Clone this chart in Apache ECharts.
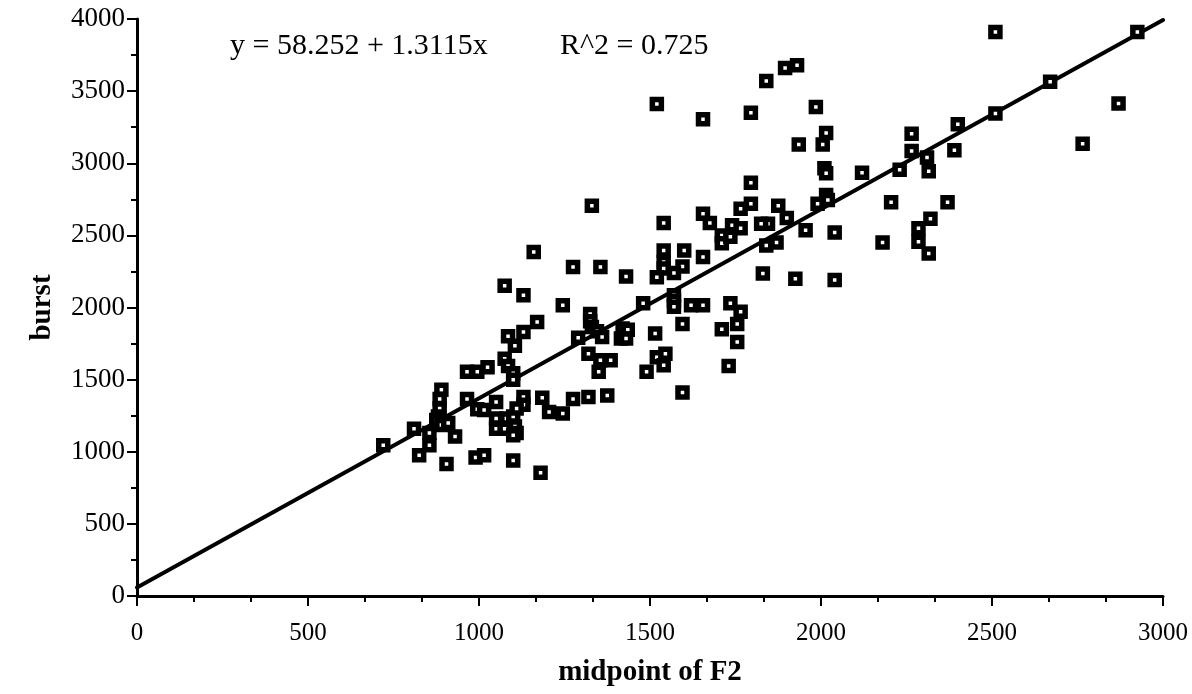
<!DOCTYPE html>
<html>
<head>
<meta charset="utf-8">
<title>burst vs midpoint of F2</title>
<script src="https://cdn.jsdelivr.net/npm/echarts@6/dist/echarts.min.js"></script>
<style>
    html, body { margin: 0; padding: 0; background: #fff; }
    #chart { width: 1192px; height: 694px; }
</style>
</head>
<body>
<div id="chart"></div>
<script>
// values: midpoint of F2 (x) and burst (y)
var midF2 = [
    2510, 2925, 2670, 2510, 2870, 2765,
    1895, 1930, 1840, 1985, 2015, 1935, 2005, 2265, 2400, 2265, 2390, 2310, 2315, 2230,
    2120, 2010, 2015, 2015, 1990, 2020, 1875, 1900, 1845, 1825, 1955, 2040, 2205, 2370,
    2320, 2285, 2285, 2315, 2180, 1870, 1840, 1830, 1925, 2040,
    1520, 1655, 1795, 1795, 1330, 1655, 1765, 1795, 1540, 1675, 1740, 1765,
    1710, 1710, 1735, 1540, 1600, 1655, 1540, 1595, 1540, 1520, 1570,
    1275, 1355, 1430, 1245, 1480, 1570, 1570, 1570, 1620, 1655, 1735, 1765, 1755,
    1325, 1325, 1330, 1345, 1360, 1290, 1420, 1435, 1415, 1430, 1515, 1595, 1710, 1755,
    1730, 1320, 1355, 1385, 1350, 1520, 1545, 1540, 1490, 1595, 1275, 1320, 1375, 1245,
    1160, 1075, 1130, 1170, 1130, 1085, 1105, 965, 995, 1025, 1075, 1085, 1100, 1100,
    890, 885, 885, 880, 875, 890, 910, 965, 995, 1015, 1050, 1050, 1080, 1100,
    1130, 1130, 1110, 1185, 1205, 1050, 1075, 1105, 1110, 1100,
    810, 855, 930, 855, 825, 905, 990, 1015, 1100, 1180, 720
];
var burst = [
    3910, 3910, 3565, 3345, 3415, 3135,
    3660, 3680, 3570, 3390, 3210, 3130, 3130, 3205, 3270, 3085, 3090, 3040, 2945, 2955,
    2935, 2965, 2930, 2780, 2720, 2745, 2705, 2620, 2580, 2580, 2535, 2520, 2730, 2730,
    2615, 2550, 2455, 2375, 2450, 2450, 2430, 2235, 2200, 2190,
    3410, 3305, 3350, 2865, 2705, 2650, 2685, 2720, 2585, 2585, 2570, 2550,
    2500, 2445, 2490, 2395, 2395, 2350, 2315, 2285, 2270, 2210, 2240,
    2280, 2280, 2215, 2015, 2030, 2085, 2045, 2005, 2015, 2015, 2030, 1970, 1885,
    1955, 1905, 1865, 1835, 1795, 1790, 1855, 1845, 1785, 1785, 1820, 1885, 1850, 1760,
    1595, 1680, 1635, 1635, 1555, 1655, 1680, 1600, 1555, 1410, 1365, 1380, 1390, 1265,
    2385, 2150, 2085, 1900, 1830, 1800, 1735, 1555, 1555, 1585, 1645, 1595, 1545, 1500,
    1430, 1365, 1300, 1245, 1220, 1185, 1200, 1365, 1295, 1290, 1345, 1230, 1230, 1245,
    1380, 1325, 1300, 1375, 1275, 1160, 1160, 1175, 1130, 1115,
    1160, 1130, 1105, 1045, 975, 915, 960, 975, 940, 855, 1045
];

// regression line as printed: y = 58.252 + 1.3115x
var fitX = [0, 3000];
var fitY = [58.252, 3992.75];

var xTicks = { min: 0, max: 3000, step: 500 };
var yTicks = { min: 0, max: 4000, step: 500 };

var serif = '"Liberation Serif", "DejaVu Serif", serif';

var points = midF2.map(function (x, i) { return [x, burst[i]]; });
var fit = fitX.map(function (x, i) { return [x, fitY[i]]; });

function axis(t, name, extra) {
    var a = {
        type: 'value', min: t.min, max: t.max, interval: t.step,
        name: name, nameLocation: 'middle',
        nameTextStyle: { fontFamily: serif, fontWeight: 'bold', fontSize: 29, color: '#000' },
        axisLine: { show: true, onZero: false, lineStyle: { color: '#000', width: 3 } },
        axisTick: { show: true, inside: false, length: 10, lineStyle: { color: '#000', width: 2 } },
        splitLine: { show: false }
    };
    for (var k in extra) a[k] = extra[k];
    return a;
}

var chart = echarts.init(document.getElementById('chart'), null, { renderer: 'canvas' });
chart.setOption({
    animation: false,
    backgroundColor: '#fff',
    grid: { left: 137, right: 29, top: 19, bottom: 98 },
    xAxis: axis(xTicks, 'midpoint of F2', {
        nameGap: 62,
        minorTick: { show: true, splitNumber: 3, length: 6, lineStyle: { color: '#000', width: 2 } },
        axisLabel: { fontFamily: serif, fontSize: 25, color: '#000', margin: 25, formatter: String }
    }),
    yAxis: axis(yTicks, 'burst', {
        nameGap: 80, nameRotate: 90,
        minorTick: { show: true, splitNumber: 2, length: 6, lineStyle: { color: '#000', width: 2 } },
        axisLabel: { fontFamily: serif, fontSize: 27, color: '#000', margin: 12, formatter: String }
    }),
    graphic: [
        { type: 'text', left: 230, top: 31,
          style: { text: 'y = 58.252 + 1.3115x', font: '30px ' + serif, fill: '#000' } },
        { type: 'text', left: 560, top: 31,
          style: { text: 'R^2 = 0.725', font: '30px ' + serif, fill: '#000' } }
    ],
    series: [
        {
            type: 'line', data: fit, symbol: 'none', silent: true,
            lineStyle: { color: '#000', width: 4, cap: 'round' }, z: 2
        },
        {
            type: 'scatter', data: points, symbol: 'rect', symbolSize: 9,
            itemStyle: { color: '#fff', borderColor: '#000', borderWidth: 5.5, opacity: 1 }, z: 3
        }
    ]
});
</script>
</body>
</html>
